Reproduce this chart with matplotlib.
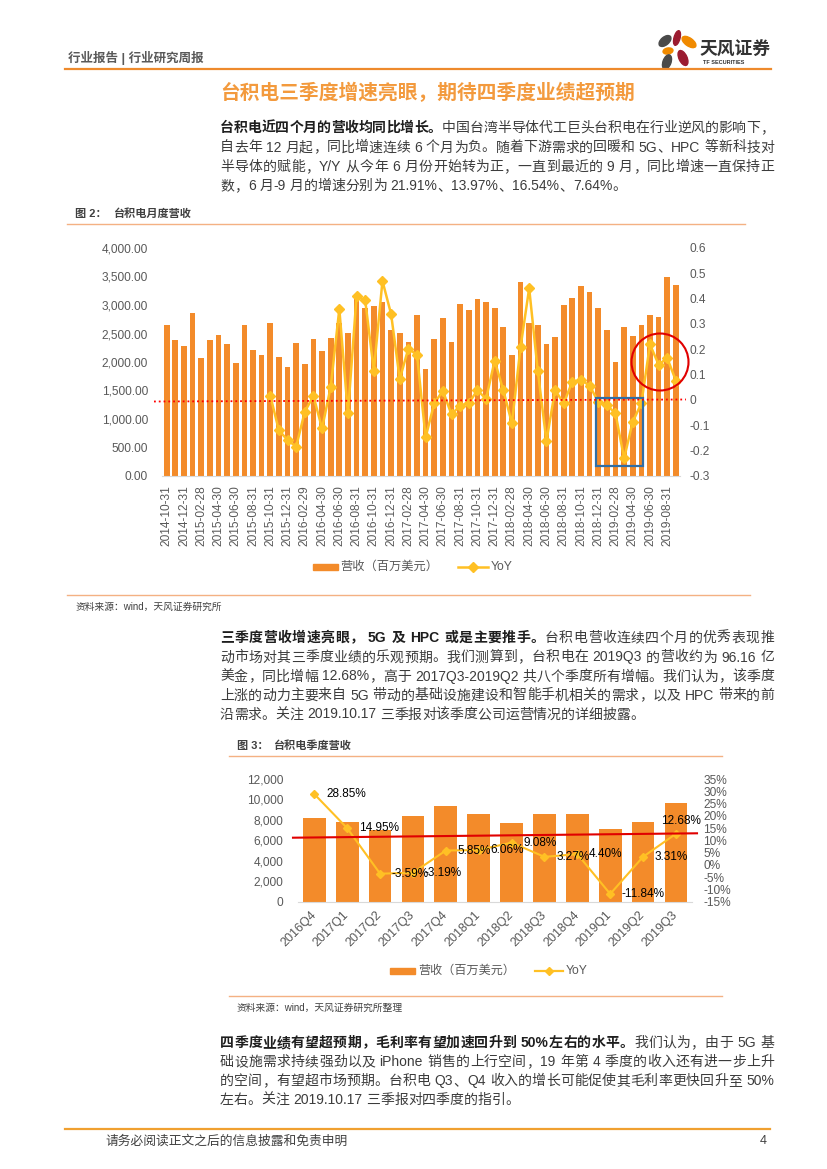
import re
import numpy as np
import matplotlib
matplotlib.use('Agg')
import matplotlib.pyplot as plt
from matplotlib import font_manager
from matplotlib.patches import Rectangle, Ellipse, Circle
from matplotlib.transforms import ScaledTranslation

# %%
# monthly revenue (million USD) and YoY, 2014-10 .. 2019-09
month_ticks = ['2014-10-31', '2014-12-31', '2015-02-28', '2015-04-30', '2015-06-30',
               '2015-08-31', '2015-10-31', '2015-12-31', '2016-02-29', '2016-04-30',
               '2016-06-30', '2016-08-31', '2016-10-31', '2016-12-31', '2017-02-28',
               '2017-04-30', '2017-06-30', '2017-08-31', '2017-10-31', '2017-12-31',
               '2018-02-28', '2018-04-30', '2018-06-30', '2018-08-31', '2018-10-31',
               '2018-12-31', '2019-02-28', '2019-04-30', '2019-06-30', '2019-08-31']
monthly_rev = [2649, 2380, 2280, 2859, 2064, 2380, 2468, 2310, 1977, 2655, 2204, 2117,
               2684, 2088, 1917, 2328, 1959, 2403, 2199, 2415, 2680, 2503, 3100, 2941,
               2988, 3052, 2561, 2514, 2345, 2818, 1871, 2398, 2766, 2351, 3018, 2906,
               3099, 3058, 2953, 2620, 2123, 3404, 2690, 2655, 2316, 2444, 2994, 3117,
               3333, 3228, 2947, 2567, 2000, 2620, 2456, 2643, 2819, 2784, 3486, 3351]
monthly_yoy = [None] * 12 + [
    0.017, -0.120, -0.158, -0.184, -0.046, 0.016, -0.112, 0.051, 0.359, -0.053, 0.410, 0.393,
    0.116, 0.470, 0.339, 0.083, 0.203, 0.178, -0.147, -0.013, 0.036, -0.057, -0.022, -0.013,
    0.039, 0.004, 0.155, 0.039, -0.092, 0.209, 0.441, 0.114, -0.162, 0.039, -0.013, 0.072,
    0.079, 0.057, -0.007, -0.020, -0.053, -0.230, -0.086, -0.013, 0.2191, 0.1397, 0.1654, 0.0764]

# quarterly revenue (million USD) and YoY (%)
quarters = ['2016Q4', '2017Q1', '2017Q2', '2017Q3', '2017Q4', '2018Q1',
            '2018Q2', '2018Q3', '2018Q4', '2019Q1', '2019Q2', '2019Q3']
quarter_rev = [8150, 7760, 7050, 8380, 9360, 8540, 7700, 8580, 8570, 7110, 7790, 9616]
quarter_yoy = [28.85, 14.95, -3.59, -3.19, 5.85, 6.06, 9.08, 3.27, 4.40, -11.84, 3.31, 12.68]


# %%
def has_font(name):
    try:
        font_manager.findfont(font_manager.FontProperties(family=name), fallback_to_default=False)
        return True
    except ValueError:
        return False


CJK = 'Noto Sans CJK SC'
LAT = 'Liberation Sans'
NARROW = 'Liberation Sans Narrow' if has_font('Liberation Sans Narrow') else LAT
plt.rcParams['font.family'] = [LAT, CJK]

BAR = '#F38B2A'
YEL = '#FFC024'
GRAY = '#595959'
TEXT = '#3C3C3C'
DARK = '#1E1E1E'
ORANGE = '#EE8A2C'
LIGHT = '#F4B183'

W, H = 827, 1169
fig = plt.figure(figsize=(W / 100, H / 100), dpi=100)


def box(x0, y0, x1, y1):
    return [x0 / W, 1 - y1 / H, (x1 - x0) / W, (y1 - y0) / H]


# %%
# chart 1: monthly
ax1 = fig.add_axes(box(162.4, 248, 680.2, 476))
x = np.arange(len(monthly_rev))
ax1.bar(x, monthly_rev, width=0.66, color=BAR, zorder=2)
ax1.set_xlim(-0.5, len(x) - 0.5)
ax1.set_ylim(0, 4000)
yt = np.arange(0, 4001, 500)
ax1.set_yticks(yt)
ax1.set_yticklabels([f'{v:,.2f}' for v in yt], fontsize=8.6, color=GRAY)
ax1.set_xticks(x[::2])
ax1.set_xticklabels(month_ticks, rotation=90, fontsize=8.6, color=GRAY)
ax1.tick_params(axis='y', length=0, pad=10.4)
ax1.tick_params(axis='x', length=0, pad=6.5)
for s in ['top', 'right', 'left']:
    ax1.spines[s].set_visible(False)
ax1.spines['bottom'].set_color('#D9D9D9')

ax1b = ax1.twinx()
ax1b.plot(x, np.array(monthly_yoy, dtype=float), color=YEL, lw=1.8, marker='D', ms=5, zorder=3)
ax1b.set_ylim(-0.3, 0.6)
rt = np.round(np.arange(-0.3, 0.61, 0.1), 1)
ax1b.set_yticks(rt)
ax1b.set_yticklabels(['0' if v == 0 else f'{v:.1f}' for v in rt], fontsize=8.6, color=GRAY)
ax1b.tick_params(length=0, pad=7)
for s in ax1b.spines.values():
    s.set_visible(False)

# chart 2: quarterly
ax2 = fig.add_axes(box(297.9, 779, 692.4, 901.7))
q = np.arange(len(quarters))
ax2.bar(q, quarter_rev, width=0.69, color=BAR, zorder=2)
ax2.set_xlim(-0.5, len(q) - 0.5)
ax2.set_ylim(0, 12000)
yt2 = np.arange(0, 12001, 2000)
ax2.set_yticks(yt2)
ax2.set_yticklabels([f'{v:,}' for v in yt2], fontsize=8.6, color=GRAY)
ax2.set_xticks(q)
ax2.set_xticklabels(quarters, rotation=45, ha='right', va='center', rotation_mode='anchor',
                    fontsize=9, color=GRAY)
for lab in ax2.get_xticklabels():
    lab.set_transform(lab.get_transform() + ScaledTranslation(0.047, 0, fig.dpi_scale_trans))
ax2.tick_params(axis='y', length=0, pad=10.5)
ax2.tick_params(axis='x', length=0, pad=8)
for s in ['top', 'right', 'left']:
    ax2.spines[s].set_visible(False)
ax2.spines['bottom'].set_color('#D9D9D9')

ax2b = ax2.twinx()
ax2b.plot(q, quarter_yoy, color=YEL, lw=1.5, marker='D', ms=4.5, zorder=3)
ax2b.set_ylim(-15, 35)
rt2 = np.arange(-15, 36, 5)
ax2b.set_yticks(rt2)
ax2b.set_yticklabels([f'{v}%' for v in rt2], fontsize=8.6, color=GRAY)
ax2b.tick_params(length=0, pad=7.8)
for s in ax2b.spines.values():
    s.set_visible(False)
for i, v in enumerate(quarter_yoy):
    if i == len(quarter_yoy) - 1:
        ax2b.annotate(f'{v:.2f}%', (i, v), xytext=(3.6, 9.4), textcoords='offset points',
                      ha='center', va='center', fontsize=8.5, color='black')
    else:
        ax2b.annotate(f'{v:.2f}%', (i, v), xytext=(8.4, 0), textcoords='offset points',
                      ha='left', va='center', fontsize=8.5, color='black')

# %%
# page layer in pixel coordinates
page = fig.add_axes([0, 0, 1, 1])
page.set_xlim(0, W)
page.set_ylim(H, 0)
page.axis('off')

# header
page.text(68, 58, '行业报告 | 行业研究周报', fontsize=9, fontweight='bold', color=GRAY, va='center')
page.plot([65, 771], [69, 69], color=ORANGE, lw=1.6)
for cx, cy, w, h, ang, col in [(677, 38, 6, 15, 15, '#9B1B30'), (689, 42, 8, 16, -55, '#F08A00'),
                               (665, 41, 8, 14, 50, '#4A4A4A'), (668, 51, 6, 10, 80, '#F08A00'),
                               (683, 58, 8, 16, -25, '#9B1B30'), (667, 62, 8, 15, 20, '#4A4A4A')]:
    page.add_patch(Ellipse((cx, cy), w, h, angle=ang, color=col))
page.text(700, 50, '天风证券', fontsize=12.8, fontweight='bold', color='#333333', va='center',
          family=[CJK])
page.text(703, 63, 'TF SECURITIES', fontsize=4, fontweight='bold', color='#333333', va='center')

page.text(220, 93, '台积电三季度增速亮眼，期待四季度业绩超预期', fontsize=14.2, fontweight='bold',
          color='#F39A3D', va='center', family=[CJK])

TOKEN = re.compile(r'[A-Za-z0-9.%/\-]+| +|.')
renderer = fig.canvas.get_renderer()


def body_line(y, parts, justify=True, x0=220, x1=774, size=10):
    px = size / 0.72
    items = []
    for txt, bold in parts:
        for tok in TOKEN.findall(txt):
            if tok.isspace():
                items.append((None, 0.28 * px * len(tok)))
                continue
            latin = bool(re.match(r'[A-Za-z0-9.%/\-]', tok))
            t = page.text(0, y + 0.36 * px, tok, fontsize=size, va='baseline', ha='left',
                          family=[NARROW, CJK] if latin else [CJK],
                          fontweight='bold' if bold else 'normal', color=DARK if bold else TEXT)
            w = t.get_window_extent(renderer).width if latin else px
            items.append((t, w))
    total = sum(w for _, w in items)
    gap = (x1 - x0 - total) / (len(items) - 1) if justify and len(items) > 1 else 0
    xx = x0
    for t, w in items:
        if t is not None:
            t.set_x(xx)
        xx += w + gap


def paragraph(ys, lines):
    for i, (y, parts) in enumerate(zip(ys, lines)):
        body_line(y, parts, justify=i < len(lines) - 1)


paragraph([127, 146.5, 166, 185], [
    [('台积电近四个月的营收均同比增长。', True), ('中国台湾半导体代工巨头台积电在行业逆风的影响下，', False)],
    [('自去年 12 月起，同比增速连续 6 个月为负。随着下游需求的回暖和 5G、HPC 等新科技对', False)],
    [('半导体的赋能，Y/Y 从今年 6 月份开始转为正，一直到最近的 9 月，同比增速一直保持正', False)],
    [('数，6 月-9 月的增速分别为 21.91%、13.97%、16.54%、7.64%。', False)],
])
paragraph([637, 656.5, 675.5, 694.5, 713.5], [
    [('三季度营收增速亮眼， 5G 及 HPC 或是主要推手。', True), ('台积电营收连续四个月的优秀表现推', False)],
    [('动市场对其三季度业绩的乐观预期。我们测算到，台积电在 2019Q3 的营收约为 96.16 亿', False)],
    [('美金，同比增幅 12.68%，高于 2017Q3-2019Q2 共八个季度所有增幅。我们认为，该季度', False)],
    [('上涨的动力主要来自 5G 带动的基础设施建设和智能手机相关的需求，以及 HPC 带来的前', False)],
    [('沿需求。关注 2019.10.17 三季报对该季度公司运营情况的详细披露。', False)],
])
paragraph([1042, 1061, 1080, 1099], [
    [('四季度业绩有望超预期，毛利率有望加速回升到 50%左右的水平。', True), ('我们认为，由于 5G 基', False)],
    [('础设施需求持续强劲以及 iPhone 销售的上行空间，19 年第 4 季度的收入还有进一步上升', False)],
    [('的空间，有望超市场预期。台积电 Q3、Q4 收入的增长可能促使其毛利率更快回升至 50%', False)],
    [('左右。关注 2019.10.17 三季报对四季度的指引。', False)],
])

# chart 1 frame, legend, annotations
page.text(75, 214, '图 2：', fontsize=8, fontweight='bold', color='#404040', va='center')
page.text(113, 214, '台积电月度营收', fontsize=8, fontweight='bold', color='#404040', va='center')
page.plot([67, 745], [224.3, 224.3], color=LIGHT, lw=1)
page.add_patch(Rectangle((313, 564.2), 25, 5.7, color=BAR))
page.text(340.5, 567, '营收（百万美元）', fontsize=8.8, color=GRAY, va='center')
page.plot([458, 487.6], [567, 567], color=YEL, lw=1.8)
page.plot([472.7], [567], color=YEL, marker='D', ms=5)
page.text(491, 567, 'YoY', fontsize=8.8, color=GRAY, va='center')
page.plot([67, 750], [595, 595], color=LIGHT, lw=1)
page.text(76, 606.7, '资料来源：wind，天风证券研究所', fontsize=7, color='#404040', va='center')
page.plot([154, 686], [401.5, 399.5], color='#FF0000', ls=':', lw=1.3)
page.add_patch(Rectangle((595.7, 398.3), 47.6, 67.7, fill=False, ec='#2F6EA5', lw=1.6))
page.add_patch(Circle((660, 362), 28.5, fill=False, ec='#E00000', lw=1.5))

# chart 2 frame, legend, annotation
page.text(236.7, 745.7, '图 3：', fontsize=8, fontweight='bold', color='#404040', va='center')
page.text(273, 745.7, '台积电季度营收', fontsize=8, fontweight='bold', color='#404040', va='center')
page.plot([229, 722], [756, 756], color=LIGHT, lw=1)
page.add_patch(Rectangle((390, 967.8), 25, 5.8, color=BAR))
page.text(418, 970.7, '营收（百万美元）', fontsize=8.7, color=GRAY, va='center')
page.plot([535, 563], [970.7, 970.7], color=YEL, lw=1.6)
page.plot([549], [970.7], color=YEL, marker='D', ms=4.5)
page.text(565.7, 970.7, 'YoY', fontsize=8.7, color=GRAY, va='center')
page.plot([229, 722], [996, 996], color=LIGHT, lw=1)
page.text(236.7, 1008, '资料来源：wind，天风证券研究所整理', fontsize=7, color='#404040', va='center')
page.plot([293, 697], [837.7, 833.3], color='#E00000', lw=1.5)

# footer
page.plot([65, 770], [1129, 1129], color='#F0A030', lw=1.6)
page.text(105, 1141, '请务必阅读正文之后的信息披露和免责申明', fontsize=9.2, color='#404040', va='center')
page.text(767, 1141, '4', fontsize=9.2, color='#404040', va='center', ha='right')

fig.savefig('out.png', dpi=100)
